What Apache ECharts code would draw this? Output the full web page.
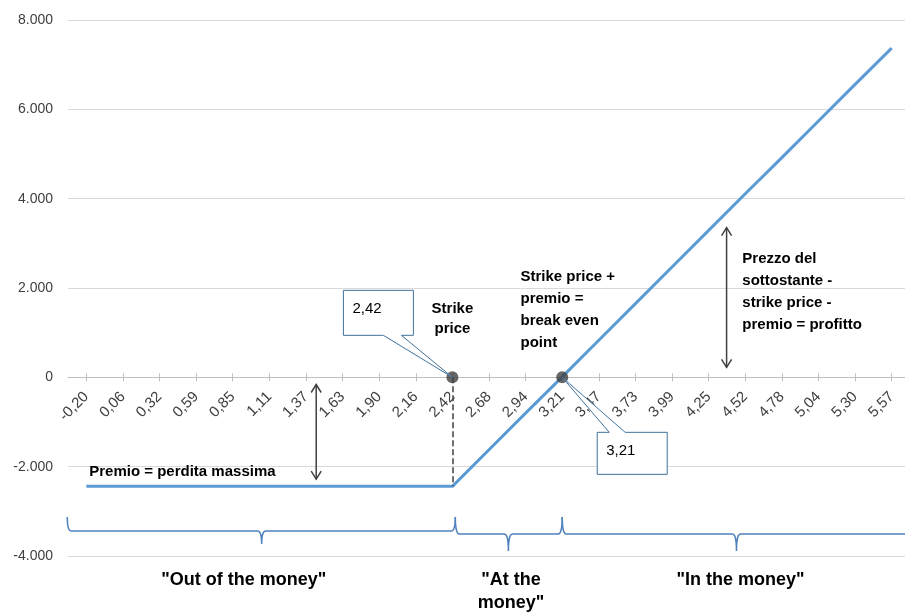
<!DOCTYPE html>
<html><head><meta charset="utf-8">
<script src="https://cdn.jsdelivr.net/npm/echarts@6/dist/echarts.min.js"></script>
<style>html,body{margin:0;padding:0;background:#fff}#c{width:905px;height:616px}</style>
</head><body><div id="c"></div>
<script>
const categories = ['-0,20','0,06','0,32','0,59','0,85','1,11','1,37','1,63','1,90','2,16','2,42','2,68','2,94','3,21','3,47','3,73','3,99','4,25','4,52','4,78','5,04','5,30','5,57'];
const profit = [-2440,-2440,-2440,-2440,-2440,-2440,-2440,-2440,-2440,-2440,-2440,-1620,-800,10,830,1650,2470,3290,4110,4920,5740,6560,7370];
const keyPoints = [[10,0],[13,0]];
const yTicks = {min:-4000, max:8000, interval:2000};

const FONT = 'Liberation Sans';
const chart = echarts.init(document.getElementById('c'), null, {renderer:'canvas'});
const fmt = v => { const s = Math.abs(v).toString().replace(/\B(?=(\d{3})+(?!\d))/g,'.'); return (v<0?'-':'')+s; };

const gridH = 536;
const zeroOffset = -gridH*(0 - yTicks.min)/(yTicks.max - yTicks.min);

chart.setOption({
  animation:false,
  grid:{left:68, top:20, width:842, height:gridH, containLabel:false, outerBoundsMode:'none'},
  xAxis:[
    {type:'category', data:categories, boundaryGap:true, position:'bottom', offset:zeroOffset,
     axisLine:{onZero:false, lineStyle:{color:'#BFBFBF', width:1}},
     axisTick:{show:true, alignWithLabel:true, interval:0, length:4, lineStyle:{color:'#BFBFBF'}},
     axisLabel:{interval:0, rotate:45, margin:17, fontSize:15, color:'#404040', fontFamily:FONT},
     splitLine:{show:false}},
    {type:'category', data:categories, boundaryGap:true, position:'bottom', offset:zeroOffset,
     axisLine:{show:false},
     axisTick:{show:true, inside:true, alignWithLabel:true, interval:0, length:4, lineStyle:{color:'#BFBFBF'}},
     axisLabel:{show:false}, splitLine:{show:false}}
  ],
  yAxis:{type:'value', min:yTicks.min, max:yTicks.max, interval:yTicks.interval,
    axisLine:{show:false}, axisTick:{show:false},
    axisLabel:{formatter:fmt, fontSize:14, color:'#404040', fontFamily:FONT, margin:15},
    splitLine:{lineStyle:{color:'#D9D9D9', width:1}}},
  series:[
    {type:'line', data:profit, symbol:'none', lineStyle:{color:'#5B9BD5', width:3}, z:3,
     markLine:{silent:true, symbol:['none','none'], label:{show:false},
       lineStyle:{color:'#404040', type:'dashed', width:1.5},
       data:[[{coord:[10,0]},{coord:[10,profit[10]]}]]}},
    {type:'scatter', data:keyPoints, symbolSize:12, itemStyle:{color:'#404040'}, z:5}
  ]
});

function px(i, v){
  const a = chart.convertToPixel({gridIndex:0},[0,v]);
  const b = chart.convertToPixel({gridIndex:0},[1,v]);
  return [a[0]+(b[0]-a[0])*i, a[1]];
}
const g = [];
function text(t, i, v, opt){
  const p = px(i, v);
  g.push({type:'text', z:20, style:Object.assign({text:t, x:p[0], y:p[1], fill:'#000', fontFamily:FONT,
    fontSize:15, fontWeight:'bold', align:'left', verticalAlign:'top', lineHeight:22}, opt||{})});
}
function arrow(i, v1, v2){
  const a = px(i, v1), b = px(i, v2);
  const st = {stroke:'#404040', lineWidth:1.5, fill:null};
  g.push({type:'line', z:20, shape:{x1:a[0],y1:a[1],x2:b[0],y2:b[1]}, style:st});
  g.push({type:'polyline', z:20, shape:{points:[[a[0]-5,a[1]+8],[a[0],a[1]],[a[0]+5,a[1]+8]]}, style:st});
  g.push({type:'polyline', z:20, shape:{points:[[b[0]-5,b[1]-8],[b[0],b[1]],[b[0]+5,b[1]-8]]}, style:st});
}
function quad(p0, c, p1){
  const out = [];
  for (let k=0;k<=6;k++){ const t=k/6; out.push([(1-t)*(1-t)*p0[0]+2*(1-t)*t*c[0]+t*t*p1[0], (1-t)*(1-t)*p0[1]+2*(1-t)*t*c[1]+t*t*p1[1]]); }
  return out;
}
function brace(i0, i1, itip, vTop, vH, vTip){
  const x0 = px(i0,0)[0], x1 = px(i1,0)[0], xt = px(itip,0)[0];
  const yT = px(0,vTop)[1], yH = px(0,vH)[1], yP = px(0,vTip)[1];
  const r = 4;
  const pts = [].concat(
    quad([x0,yT],[x0,yH],[x0+r,yH]),
    quad([xt-r,yH],[xt,yH],[xt,yP]),
    quad([xt,yP],[xt,yH],[xt+r,yH]),
    quad([x1-r,yH],[x1,yH],[x1,yT]));
  g.push({type:'polyline', z:20, shape:{points:pts}, style:{stroke:'#4F81BD', lineWidth:1.5, fill:null}});
}
function callout(anchorI, anchorV, rect, w1, w2, label){
  const a = px(anchorI, anchorV);
  const [dx,dy,w,h] = rect;
  const L = a[0]+dx, T = a[1]+dy, R = L+w, B = T+h;
  let pts;
  if (dy < 0) {
    pts = [[L,T],[R,T],[R,B],[a[0]+w2,B],[a[0],a[1]],[a[0]+w1,B],[L,B]];
  } else {
    pts = [[L,T],[a[0]+w1,T],[a[0],a[1]],[a[0]+w2,T],[R,T],[R,B],[L,B]];
  }
  g.push({type:'polygon', z:18, shape:{points:pts}, style:{stroke:'#41719C', lineWidth:1, fill:'#fff'}});
  g.push({type:'text', z:21, style:{text:label, x:L+9, y:T+19, fill:'#000', fontFamily:FONT, fontSize:15, verticalAlign:'middle'}});
}

callout(10, 0, [-109,-87,70,45], -69, -51, '2,42');
callout(13, 0, [35,55,70,42], 47, 63, '3,21');

text('Strike\nprice', 10, 1750, {align:'center', lineHeight:20});
text('Premio = perdita massima', 0.08, -2120, {verticalAlign:'middle'});
text('Strike price +\npremio =\nbreak even\npoint', 11.86, 2500);
text('Prezzo del\nsottostante -\nstrike price -\npremio = profitto', 17.92, 2900);

arrow(6.28, -160, -2280);
arrow(17.49, 3350, 225);

brace(-0.52, 10.08, 4.79, -3128, -3441, -3732);
brace(10.08, 13.0, 11.53, -3128, -3508, -3888);
brace(13.0, 23.2, 17.76, -3128, -3508, -3888);

const yLbl = px(0,-4536)[1];
text('"Out of the money"', 4.3, -4536, {align:'center', verticalAlign:'middle', fontSize:18, lineHeight:23});
text('"At the\nmoney"', 11.6, -4536, {align:'center', verticalAlign:'top', fontSize:18, lineHeight:23, y:yLbl-11});
text('"In the money"', 17.87, -4536, {align:'center', verticalAlign:'middle', fontSize:18, lineHeight:23});

chart.setOption({graphic:g});
</script></body></html>
